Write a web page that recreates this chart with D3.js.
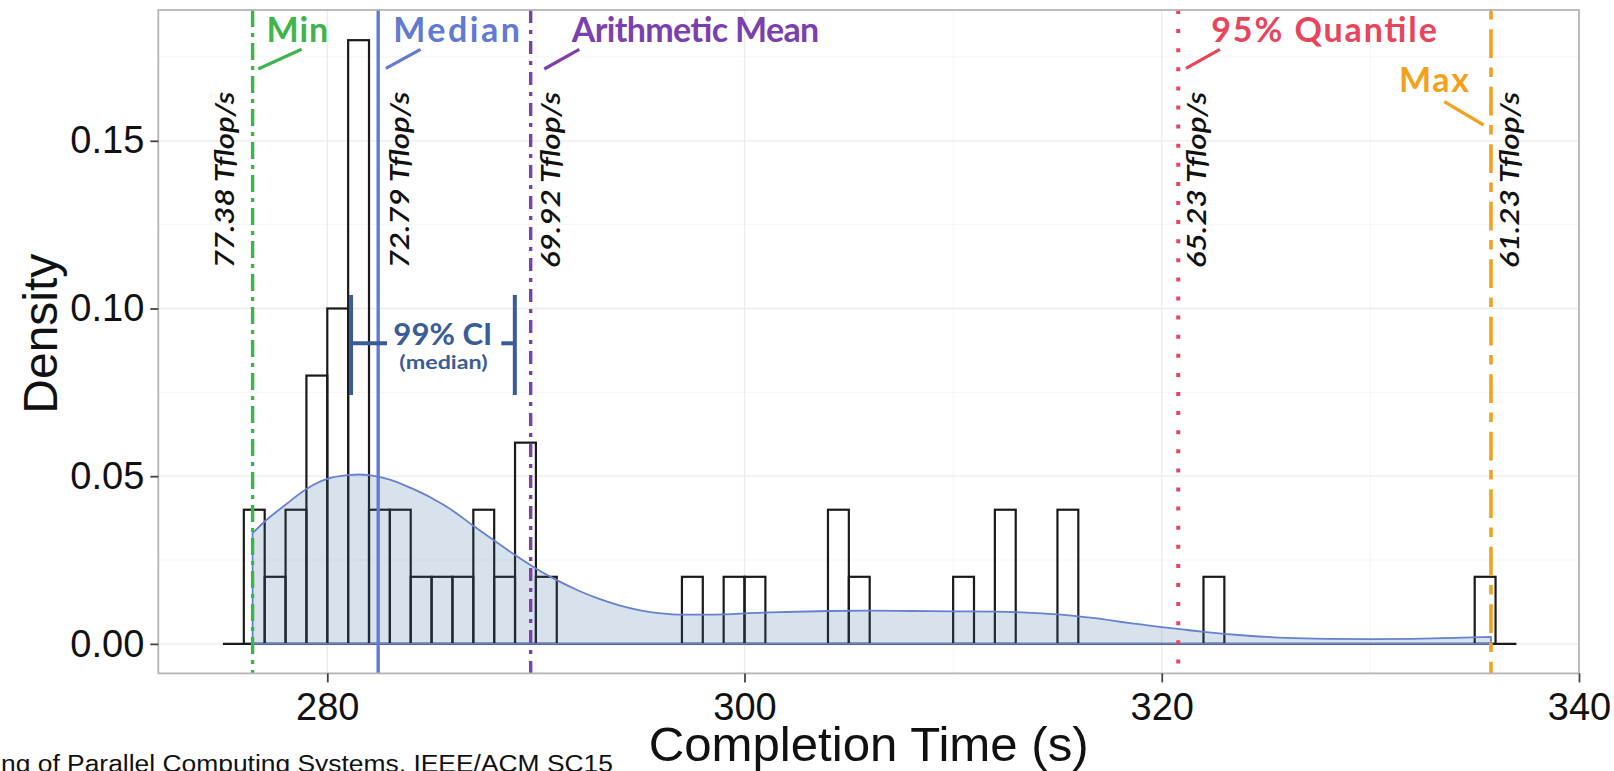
<!DOCTYPE html>
<html><head><meta charset="utf-8">
<script src="https://cdn.jsdelivr.net/npm/d3@7"></script>
<style>html,body{margin:0;padding:0;background:#fff;overflow:hidden}</style>
</head><body>
<svg id="chart" width="1614" height="771"></svg>
<script>
// ---------------- data ----------------
// histogram (binwidth 1 s), left edges of non-empty bins and their densities
const histRange = [275, 337];
const binLeft    = [276, 277, 278, 279, 280, 281, 282, 283, 284, 285, 286, 287, 288, 289, 290, 297, 299, 300, 304, 305, 310, 312, 315, 322, 335];
const binDensity = [0.04,0.02,0.04,0.08,0.10,0.18,0.04,0.04,0.02,0.02,0.02,0.04,0.02,0.06,0.02,0.02,0.02,0.02,0.04,0.02,0.02,0.04,0.04,0.02,0.02];

// kernel density curve
const densX = [276.42, 277, 278, 279, 280, 281, 281.5, 282, 283, 284, 285, 286, 287, 288, 289, 290, 291, 292, 293, 294, 295, 296, 297, 298, 299, 300, 302, 304, 306, 308, 310, 312, 314, 315, 316, 317, 318, 319, 320, 321, 322, 324, 326, 328, 330, 332, 334, 335.78];
const densY = [0.033, 0.0365, 0.0415, 0.0462, 0.0492, 0.0503, 0.0505, 0.0503, 0.049, 0.0465, 0.0435, 0.0398, 0.0352, 0.0308, 0.0265, 0.0225, 0.019, 0.016, 0.0135, 0.0115, 0.0100, 0.0091, 0.0087, 0.0087, 0.0088, 0.0091, 0.0095, 0.0098, 0.0099, 0.0098, 0.0097, 0.0096, 0.0092, 0.0088, 0.0082, 0.0075, 0.0066, 0.0058, 0.0050, 0.0043, 0.0036, 0.0025, 0.0018, 0.0015, 0.0014, 0.0015, 0.0018, 0.0021];

// summary statistics
const statName  = ["Min", "Median", "Arithmetic Mean", "95% Quantile", "Max"];
const statValue = [276.42, 282.44, 289.75, 320.79, 335.78];
const statPerf  = ["77.38 Tflop/s", "72.79 Tflop/s", "69.92 Tflop/s", "65.23 Tflop/s", "61.23 Tflop/s"];
const ciMedian  = [281.14, 288.99];

const xTicks = [280, 300, 320, 340];
const xMinor = [290, 310, 330];
const yTicks = [0, 0.05, 0.10, 0.15];
const yMinor = [0.025, 0.075, 0.125, 0.175];

// ---------------- styles ----------------
const statStyle = [
  {color:"#3db54b", dash:"17,6,4,6",         width:3.4, name:{dx:14, y:41.5, len:61.6},  lead:[5.6,69,49,49.3],     perf:{dx:-19}},
  {color:"#627ad2", dash:null,               width:3.4, name:{dx:15, y:42,   len:126.7}, lead:[7.7,68.3,42.4,49.3], perf:{dx:31}},
  {color:"#7b40ae", dash:"13,7,4,7",         width:3.4, name:{dx:41, y:42,   len:247.6}, lead:[13.6,69,48.6,49.3],  perf:{dx:29}},
  {color:"#e8455d", dash:"4,15.1",           width:4,   name:{dx:33, y:42,   len:225.6}, lead:[7.7,68.3,41.7,49.3], perf:{dx:28}},
  {color:"#f3a11d", dash:"9.6,9.6,28.7,9.6", width:3.6, name:{dx:-92,y:91.7, len:70},    lead:[-46.7,101.7,-7.4,125], perf:{dx:28}}
];
const ciColor = "#3b5d97";

const W = 1614, H = 771;
const P = {left:158.3, right:1579, top:10, bottom:673.4};

const svg = d3.select("#chart");
svg.append("rect").attr("width", W).attr("height", H).attr("fill", "#fff");

const x = d3.scaleLinear().domain([271.9, 340]).range([P.left, P.right]);
const y = d3.scaleLinear().domain([-0.0088, 0.189]).range([P.bottom, P.top]);

svg.append("defs").append("clipPath").attr("id", "clip")
  .append("rect").attr("x", P.left).attr("y", P.top)
  .attr("width", P.right - P.left).attr("height", P.bottom - P.top);

const plot = svg.append("g").attr("clip-path", "url(#clip)");

// grid
plot.selectAll(".gxm").data(xMinor).join("line")
  .attr("x1", d => x(d)).attr("x2", d => x(d)).attr("y1", P.top).attr("y2", P.bottom)
  .attr("stroke", "#f5f5f5").attr("stroke-width", 1);
plot.selectAll(".gym").data(yMinor).join("line")
  .attr("y1", d => y(d)).attr("y2", d => y(d)).attr("x1", P.left).attr("x2", P.right)
  .attr("stroke", "#f5f5f5").attr("stroke-width", 1);
plot.selectAll(".gx").data(xTicks).join("line")
  .attr("x1", d => x(d)).attr("x2", d => x(d)).attr("y1", P.top).attr("y2", P.bottom)
  .attr("stroke", "#ebebeb").attr("stroke-width", 1.3);
plot.selectAll(".gy").data(yTicks).join("line")
  .attr("y1", d => y(d)).attr("y2", d => y(d)).attr("x1", P.left).attr("x2", P.right)
  .attr("stroke", "#ebebeb").attr("stroke-width", 1.3);

// histogram: empty bins along the baseline, then bars
plot.append("line")
  .attr("x1", x(histRange[0])).attr("x2", x(histRange[1]))
  .attr("y1", y(0)).attr("y2", y(0))
  .attr("stroke", "#1a1a1a").attr("stroke-width", 2.2);
plot.selectAll(".bar").data(binLeft.map((l, i) => ({l, d: binDensity[i]}))).join("rect")
  .attr("x", d => x(d.l)).attr("width", d => x(d.l + 1) - x(d.l))
  .attr("y", d => y(d.d)).attr("height", d => y(0) - y(d.d))
  .attr("fill", "none").attr("stroke", "#1a1a1a").attr("stroke-width", 2.2);

// density
const dens = densX.map((v, i) => ({x: v, y: densY[i]}));
const area = d3.area().x(d => x(d.x)).y0(y(0)).y1(d => y(d.y)).curve(d3.curveMonotoneX);
plot.append("path").datum(dens).attr("d", area)
  .attr("fill", "rgba(58,110,165,0.2)")
  .attr("stroke", "#6780d2").attr("stroke-width", 1.8).attr("stroke-linejoin", "round");

// statistic lines
plot.selectAll(".stat").data(statValue).join("line")
  .attr("x1", d => x(d)).attr("x2", d => x(d)).attr("y1", P.top).attr("y2", P.bottom)
  .attr("stroke", (d, i) => statStyle[i].color).attr("stroke-width", (d, i) => statStyle[i].width)
  .attr("stroke-dasharray", (d, i) => statStyle[i].dash);

// CI of the median
const ciG = svg.append("g").attr("stroke", ciColor).attr("stroke-width", 4).attr("fill", "none");
const ciTop = 295, ciBot = 395, ciMid = 343.3;
ciG.append("line").attr("x1", x(ciMedian[0])).attr("x2", x(ciMedian[0])).attr("y1", ciTop).attr("y2", ciBot);
ciG.append("line").attr("x1", x(ciMedian[1])).attr("x2", x(ciMedian[1])).attr("y1", ciTop).attr("y2", ciBot);
ciG.append("line").attr("x1", x(ciMedian[0])).attr("x2", x(ciMedian[0]) + 36).attr("y1", ciMid).attr("y2", ciMid);
ciG.append("line").attr("x1", x(ciMedian[1]) - 13.5).attr("x2", x(ciMedian[1])).attr("y1", ciMid).attr("y2", ciMid);
svg.append("text").attr("x", x(ciMedian[0]) + 42.3).attr("y", 345)
  .attr("font-family", "Lato").attr("font-weight", 700).attr("font-size", 31)
  .attr("fill", ciColor).attr("textLength", 99).attr("lengthAdjust", "spacingAndGlyphs")
  .text("99% CI");
svg.append("text").attr("x", x(ciMedian[0]) + 48.3).attr("y", 369)
  .attr("font-family", "Lato").attr("font-weight", 700).attr("font-size", 18)
  .attr("fill", ciColor).attr("textLength", 88.4).attr("lengthAdjust", "spacingAndGlyphs")
  .text("(median)");

// statistic names + leader lines + performance labels
statValue.forEach((v, i) => {
  const s = statStyle[i], cx = x(v);
  svg.append("text").attr("x", cx + s.name.dx).attr("y", s.name.y)
    .attr("font-family", "Lato").attr("font-weight", 700).attr("font-size", 34)
    .attr("fill", s.color).attr("textLength", s.name.len).attr("lengthAdjust", "spacing")
    .text(statName[i]);
  svg.append("line").attr("x1", cx + s.lead[0]).attr("y1", s.lead[1])
    .attr("x2", cx + s.lead[2]).attr("y2", s.lead[3])
    .attr("stroke", s.color).attr("stroke-width", 3.2);
  const bx = cx + s.perf.dx;
  svg.append("text").attr("transform", `translate(${bx},268.3) rotate(-90)`)
    .attr("font-family", "Lato").attr("font-style", "italic").attr("font-weight", 600).attr("font-size", 27)
    .attr("fill", "#111").attr("textLength", 176.6).attr("lengthAdjust", "spacingAndGlyphs")
    .text(statPerf[i]);
});

// panel border
svg.append("rect").attr("x", P.left).attr("y", P.top)
  .attr("width", P.right - P.left).attr("height", P.bottom - P.top)
  .attr("fill", "none").attr("stroke", "#b5b5b5").attr("stroke-width", 1.8);

// axes
const xAxis = svg.append("g").attr("transform", `translate(0,${P.bottom})`)
  .call(d3.axisBottom(x).tickValues(xTicks).tickFormat(d3.format("d")).tickSize(9).tickPadding(10.5));
const yAxis = svg.append("g").attr("transform", `translate(${P.left},0)`)
  .call(d3.axisLeft(y).tickValues(yTicks).tickFormat(d3.format(".2f")).tickSize(8).tickPadding(6));
[xAxis, yAxis].forEach(a => {
  a.select(".domain").remove();
  a.selectAll(".tick line").attr("stroke", "#444").attr("stroke-width", 1.8);
  a.selectAll(".tick text").attr("font-family", "Liberation Sans, Arial, sans-serif")
    .attr("font-size", 38).attr("fill", "#111");
});

// axis titles
svg.append("text").attr("x", (P.left + P.right) / 2).attr("y", 761)
  .attr("text-anchor", "middle").attr("font-family", "Liberation Sans, Arial, sans-serif")
  .attr("font-size", 48).attr("fill", "#111").attr("textLength", 440).attr("lengthAdjust", "spacingAndGlyphs")
  .text("Completion Time (s)");
svg.append("text").attr("transform", `translate(57,${(P.top + P.bottom) / 2 - 8}) rotate(-90)`)
  .attr("text-anchor", "middle").attr("font-family", "Liberation Sans, Arial, sans-serif")
  .attr("font-size", 48).attr("fill", "#111")
  .text("Density");

// source note (cut at the left edge in the original)
svg.append("text").attr("x", 1).attr("y", 772)
  .attr("font-family", "Liberation Sans, Arial, sans-serif").attr("font-size", 23).attr("fill", "#111")
  .attr("textLength", 612).attr("lengthAdjust", "spacingAndGlyphs")
  .text("ng of Parallel Computing Systems, IEEE/ACM SC15");
</script>
</body></html>
